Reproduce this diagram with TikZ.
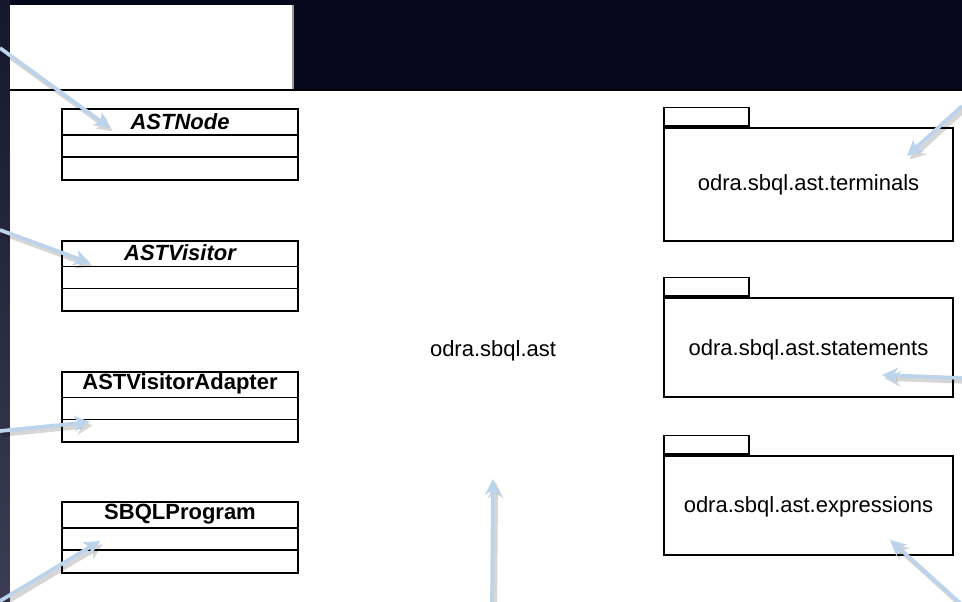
\documentclass[tikz,border=0pt]{standalone}
\usepackage{fontspec}
\setmainfont{Liberation Sans}
\usetikzlibrary{arrows.meta}
\definecolor{bgdark}{HTML}{06061C}
\definecolor{striptop}{HTML}{16162C}
\definecolor{stripbot}{HTML}{3C3C54}
\definecolor{tabedge}{HTML}{9A9A9A}
\definecolor{hintblue}{HTML}{BCD3EC}
\begin{document}
\begin{tikzpicture}[x=0.75pt,y=-0.75pt,
  classbox/.style={draw=black, line width=1.3pt, fill=white, inner sep=0pt,
    minimum width=177pt, minimum height=53pt},
  classname/.style={font=\bfseries\fontsize{16.5}{18}\selectfont, inner sep=0pt},
  abstractname/.style={classname, font=\bfseries\itshape\fontsize{16.5}{18}\selectfont},
  pkgbody/.style={draw=black, line width=1.3pt, fill=white, inner sep=0pt,
    minimum width=216.75pt, font=\fontsize{16.5}{18}\selectfont},
  pkgtab/.style={draw=black, line width=1.3pt, fill=white, inner sep=0pt,
    minimum width=63.75pt, minimum height=14pt, anchor=south west},
  pkglabel/.style={font=\fontsize{16.5}{18}\selectfont, inner sep=0pt},
  hinthead/.style={-{Stealth[length=12pt,width=12pt,inset=3.5pt,line width=0pt]}},
  hint/.style={hintblue, line width=2.8pt, hinthead},
  hintshadow/.style={black, opacity=0.16, line width=3.6pt, hinthead,
    transform canvas={xshift=2pt,yshift=-2.5pt}},
]
\useasboundingbox (0,0) rectangle (962,602);

% dark backdrop and left edge strip
\fill[bgdark] (0,0) rectangle (962,602);
\shade[top color=striptop, bottom color=stripbot] (0,0) rectangle (10,602);

% enclosing package: tab and body
\fill[white] (10,5) rectangle (293,90);
\draw[tabedge, line width=0.8pt] (293,5) -- (293,90);
\fill[white] (10,90) rectangle (962,602);
\draw[black, line width=1.3pt] (10,90) -- (962,90);
\node[pkglabel] (ast) at (493,351) {odra.sbql.ast};

% classes
\node[classbox] (astnode) at (180,144.5) {};
\node[classbox] (astvisitor) at (180,276) {};
\node[classbox] (adapter) at (180,407) {};
\node[classbox] (program) at (180,537.5) {};
\foreach \c in {astnode,astvisitor,adapter,program}{
  \draw[line width=1.3pt] ([yshift=-20pt]\c.north west) -- ([yshift=-20pt]\c.north east);
  \draw[line width=1.3pt] ([yshift=-36.5pt]\c.north west) -- ([yshift=-36.5pt]\c.north east);
}
\node[abstractname] (astnodename) at ([yshift=-10pt]astnode.north) {ASTNode};
\node[abstractname] (astvisitorname) at ([yshift=-10pt]astvisitor.north) {ASTVisitor};
\node[classname] (adaptername) at ([yshift=-10pt]adapter.north) {ASTVisitorAdapter};
\node[classname] (programname) at ([yshift=-10pt]program.north) {SBQLProgram};

% sub-packages
\node[pkgbody, minimum height=84.75pt] (terminals) at (808.5,184.5) {};
\node[pkgtab] (terminalstab) at (terminals.north west) {};
\node[pkglabel] (terminalsname) at (terminals.center) {odra.sbql.ast.terminals};
\node[pkgbody, minimum height=74.25pt] (statements) at (808.5,347.5) {};
\node[pkgtab] (statementstab) at (statements.north west) {};
\node[pkglabel] (statementsname) at ([yshift=-1.5pt]statements.center) {odra.sbql.ast.statements};
\node[pkgbody, minimum height=74.25pt] (expressions) at (808.5,505.5) {};
\node[pkgtab] (expressionstab) at (expressions.north west) {};
\node[pkglabel] (expressionsname) at ([yshift=-1pt]expressions.center) {odra.sbql.ast.expressions};

% pointer arrows: start and tip points
\coordinate (s1) at (0,48);    \coordinate (t1) at (110,128);
\coordinate (s2) at (0,230);   \coordinate (t2) at (90,263);
\coordinate (s3) at (0,431);   \coordinate (t3) at (90,422);
\coordinate (s4) at (0,601);   \coordinate (t4) at (100,541);
\coordinate (s5) at (492,604); \coordinate (t5) at (493,479);
\coordinate (s6) at (962,106); \coordinate (t6) at (907,156);
\coordinate (s7) at (962,378); \coordinate (t7) at (882,375);
\coordinate (s8) at (961,604); \coordinate (t8) at (890,540);

\foreach \i in {1,...,8}{
  \draw[hintshadow] (s\i) -- (t\i);
  \draw[hint] (s\i) -- (t\i);
}
\end{tikzpicture}
\end{document}
